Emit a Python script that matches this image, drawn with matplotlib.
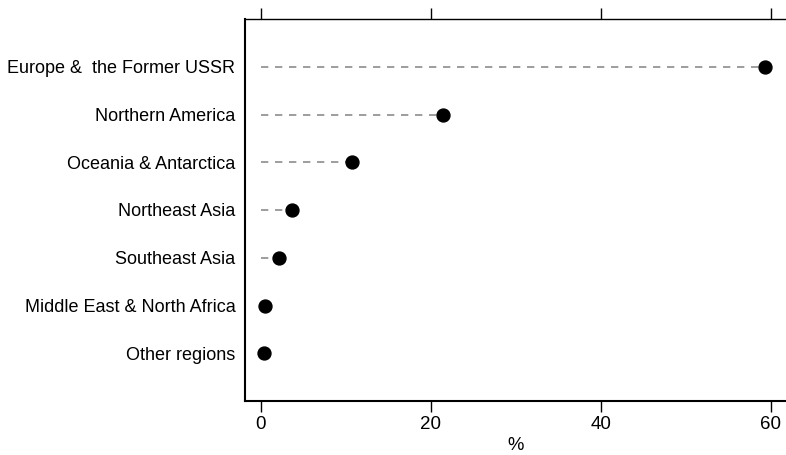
import matplotlib
matplotlib.use("Agg")
import matplotlib.pyplot as plt
import numpy as np

regions = ["Europe &  the Former USSR", "Northern America", "Oceania & Antarctica",
           "Northeast Asia", "Southeast Asia", "Middle East & North Africa", "Other regions"]
values = [59.3, 21.4, 10.7, 3.7, 2.1, 0.5, 0.4]
xticks = [0, 20, 40, 60]

plt.rcParams['font.family'] = ['Liberation Sans', 'DejaVu Sans']

fig = plt.figure(figsize=(7.86, 4.55), dpi=100)
ax = fig.add_axes([245/786, 54/455, (786-245)/786, (401-19)/455])

n = len(regions)
ypos = np.arange(n, 0, -1)
for y, v in zip(ypos, values):
    ax.plot([0, v], [y, y], linestyle=(0, (4.4, 4.0)), color='#8c8c8c', linewidth=1.2, zorder=1)
ax.plot(values, ypos, 'o', color='black', markersize=9.3, zorder=2)

ax.set_ylim(0, n + 1)
ax.set_xlim(-1.85, 61.8)
ax.set_yticks(ypos)
ax.set_yticklabels(regions, fontsize=13.0)
ax.tick_params(axis='y', length=0, pad=7)
ax.set_xticks(xticks)
ax.set_xticklabels([str(t) for t in xticks], fontsize=13.5)
ax.tick_params(axis='x', direction='out', length=8, width=1, top=True, bottom=True,
               labeltop=False, labelbottom=True, pad=3)
ax.spines['right'].set_visible(False)
ax.spines['left'].set_linewidth(1.5)
ax.spines['bottom'].set_linewidth(1.5)
ax.spines['top'].set_linewidth(1.0)
ax.set_xlabel('%', fontsize=13.3, labelpad=3)

fig.savefig('out.png', dpi=100)
